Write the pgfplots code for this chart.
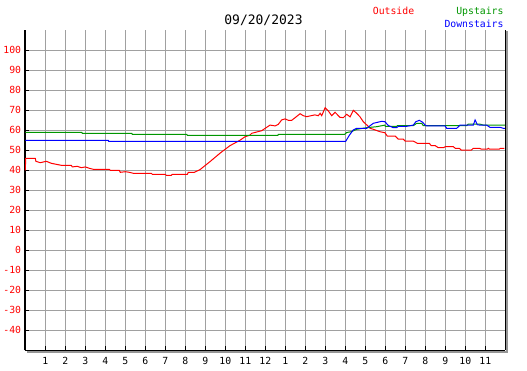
\documentclass[border=0pt]{standalone}
\usepackage{pgfplots}
\pgfplotsset{compat=1.18}
\usepackage{fontspec}
\setmainfont{DejaVu Sans Mono}
\definecolor{gridgray}{RGB}{160,160,160}
\definecolor{upgreen}{RGB}{0,150,0}
\definecolor{shadowgray}{RGB}{150,150,150}
\begin{document}
\begin{tikzpicture}[x=1pt,y=1pt,font=\fontsize{9.8}{11}\selectfont]
\useasboundingbox (0,0) rectangle (527,370);
\begin{axis}[
  at={(25.3pt,19.7pt)}, anchor=south west,
  scale only axis, width=480pt, height=320pt,
  xmin=0, xmax=24, ymin=-50, ymax=110,
  axis x line*=bottom, axis y line*=left,
  axis line style={black, line width=1.6pt},
  xtick={1,2,...,23},
  xticklabels={1,2,3,4,5,6,7,8,9,10,11,12,1,2,3,4,5,6,7,8,9,10,11},
  ytick={-40,-30,...,100},
  yticklabels={-40,-30,-20,-10,0,10,20,30,40,50,60,70,80,90,100},
  tick align=inside, major tick length=4pt,
  tick style={black, line width=1pt},
  grid=major, grid style={gridgray, line width=1pt},
  yticklabel style={text=red, anchor=east, inner sep=0pt, xshift=-4pt},
  xticklabel style={text=black, anchor=base, inner sep=0pt, yshift=-14.5pt},
  clip=false,
]
% Outside
\addplot[red, line width=1pt] coordinates {
(0,40) (0.02,46) (0.5,46) (0.53,44.5) (0.75,43.8) (1.05,44.5) (1.3,43.5) (1.55,43) (1.8,42.5) (2.3,42.5) (2.35,41.7) (2.6,42) (2.8,41.3) (3.0,41.7) (3.2,41) (3.4,40.5) (4.2,40.5) (4.25,40) (4.7,40) (4.75,39) (5.0,39.3) (5.2,39) (5.4,38.5) (6.3,38.5) (6.35,38) (7.0,38) (7.05,37.5) (7.3,37.5) (7.35,38) (8.1,38) (8.15,39) (8.45,39) (8.73,40.3) (9.23,44.3) (9.73,48.5) (9.99,50.5) (10.23,52.3) (10.73,55) (10.99,56.8) (11.23,57.6) (11.32,58.5) (11.82,59.8) (12.07,61.5) (12.24,62.6) (12.49,62.2) (12.65,63) (12.82,65.2) (12.99,65.7) (13.15,65) (13.32,65) (13.49,66.3) (13.74,68.3) (13.9,67.3) (14.07,66.8) (14.24,67.2) (14.48,67.7) (14.65,67.3) (14.74,68.5) (14.82,67.3) (14.99,71.3) (15.15,69.7) (15.32,67.3) (15.49,69) (15.73,66.5) (15.9,66.3) (16.07,68) (16.24,66.7) (16.4,70) (16.57,68.5) (16.73,66.8) (16.9,64.3) (17.07,62.7) (17.24,61) (17.4,60.5) (17.73,59.3) (17.98,58.8) (18.1,57.1) (18.5,57.1) (18.65,55.6) (18.9,55.6) (19.0,54.6) (19.4,54.6) (19.6,53.5) (20.2,53.5) (20.3,52.3) (20.5,52.3) (20.65,51.3) (20.9,51.3) (21.0,51.8) (21.4,51.8) (21.5,51) (21.7,51) (21.8,50.1) (22.3,50.1) (22.4,51) (22.7,51) (22.8,50.6) (23.1,50.6) (23.15,51) (23.2,50.6) (23.7,50.6) (23.75,51) (23.95,51)
};
% Upstairs
\addplot[upgreen, line width=1pt] coordinates {
(0,59) (2.82,59) (2.85,58.5) (5.32,58.5) (5.35,58) (8.07,58) (8.1,57.5) (12.63,57.5) (12.65,58) (15.97,58) (16.07,58.9) (16.3,59.3) (16.57,60.5) (17.07,61.3) (17.57,61.8) (17.98,62.6) (18.0,62) (18.57,62) (18.6,62.3) (19.4,62.3) (19.57,63.5) (19.82,63.5) (19.9,62.3) (22.07,62.3) (22.15,63.1) (22.73,63.1) (22.9,62.6) (24,62.6)
};
% Downstairs
\addplot[blue, line width=1pt] coordinates {
(0,55) (4.15,55) (4.17,54.5) (16.02,54.5) (16.2,57.5) (16.4,60.2) (16.57,61) (17.07,61) (17.4,63.5) (17.82,64.5) (17.98,64.3) (18.15,62.4) (18.4,61.3) (18.57,61.3) (18.65,62) (19.07,62) (19.4,62.6) (19.53,64.3) (19.7,65) (19.87,64) (19.99,62.6) (20.07,62.2) (20.99,62.2) (21.07,61) (21.57,61) (21.74,62.6) (22.4,62.6) (22.49,65.2) (22.6,62.8) (22.73,62.6) (23.07,62.6) (23.23,61.5) (23.73,61.5) (23.9,61) (24,61)
};
\end{axis}
% right border and shadow
\draw[shadowgray, line width=2pt] (507.3,18) -- (507.3,338.5);
\draw[shadowgray, line width=2pt] (27,17.9) -- (508.3,17.9);
\draw[black, line width=1.6pt] (505.3,19.7) -- (505.3,340);
% title and legend
\node[anchor=base, inner sep=0pt, font=\fontsize{13}{15}\selectfont] at (263.5,345) {09/20/2023};
\node[anchor=base, inner sep=0pt, text=red] at (393.5,355) {Outside};
\node[anchor=base east, inner sep=0pt, text=upgreen] at (503.7,355) {Upstairs};
\node[anchor=base east, inner sep=0pt, text=blue] at (503.7,342.7) {Downstairs};
\end{tikzpicture}
\end{document}
